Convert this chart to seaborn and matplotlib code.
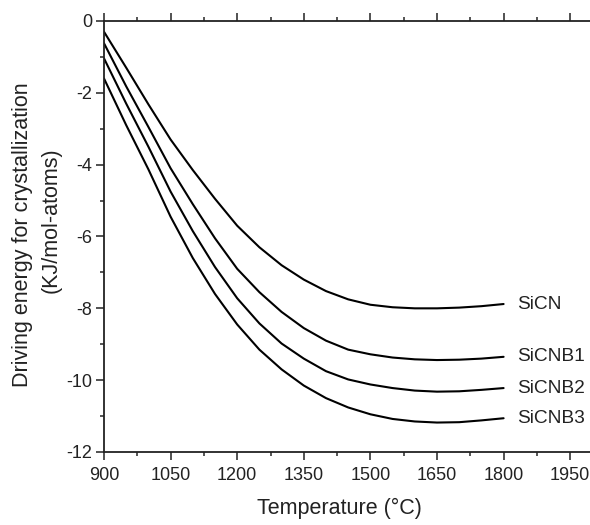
import matplotlib
matplotlib.use("Agg")
import matplotlib.pyplot as plt
from matplotlib.ticker import MultipleLocator
import seaborn as sns
import pandas as pd

temperature = [900, 950, 1000, 1050, 1100, 1150, 1200, 1250, 1300, 1350,
               1400, 1450, 1500, 1550, 1600, 1650, 1700, 1750, 1800]
sicn = [-0.30, -1.30, -2.32, -3.30, -4.15, -4.95, -5.70, -6.30, -6.80, -7.20,
        -7.52, -7.75, -7.90, -7.97, -8.00, -8.00, -7.98, -7.94, -7.88]
sicnb1 = [-0.62, -1.82, -2.95, -4.10, -5.10, -6.05, -6.90, -7.55, -8.10, -8.55,
          -8.90, -9.15, -9.28, -9.37, -9.42, -9.44, -9.43, -9.40, -9.35]
sicnb2 = [-1.04, -2.30, -3.50, -4.75, -5.85, -6.85, -7.72, -8.42, -8.98, -9.40,
          -9.75, -9.98, -10.12, -10.22, -10.29, -10.32, -10.31, -10.27, -10.22]
sicnb3 = [-1.60, -2.90, -4.13, -5.45, -6.60, -7.60, -8.45, -9.15, -9.70, -10.15,
          -10.50, -10.76, -10.95, -11.08, -11.15, -11.18, -11.17, -11.12, -11.06]
series_names = ["SiCN", "SiCNB1", "SiCNB2", "SiCNB3"]
x_ticks = [900, 1050, 1200, 1350, 1500, 1650, 1800, 1950]
y_ticks = [0, -2, -4, -6, -8, -10, -12]

frames = []
for name, vals in zip(series_names, [sicn, sicnb1, sicnb2, sicnb3]):
    frames.append(pd.DataFrame({"T": temperature, "E": vals, "series": name}))
df = pd.concat(frames, ignore_index=True)

sns.set_style("ticks")
plt.rcParams["font.family"] = ["Liberation Sans", "DejaVu Sans"]

W, H = 590, 525
fig = plt.figure(figsize=(W / 100, H / 100), dpi=100)
left, right, top, bottom = 104, 590, 21, 452
ax = fig.add_axes([left / W, (H - bottom) / H, (right - left) / W, (bottom - top) / H])

sns.lineplot(data=df, x="T", y="E", hue="series",
             palette=["black"] * 4, legend=False, ax=ax, linewidth=1.5)

ax.set_xlim(900, 900 + (right - left) / 66.6 * 150)
ax.set_ylim(-12, 0)
ax.set_xticks(x_ticks)
ax.set_yticks(y_ticks)
ax.set_yticklabels([str(v) for v in y_ticks])
ax.xaxis.set_minor_locator(MultipleLocator(75))
ax.yaxis.set_minor_locator(MultipleLocator(1))
ax.tick_params(axis="both", which="major", direction="out", length=5.5, width=1.1,
               labelsize=13, colors="#222222")
ax.tick_params(axis="both", which="minor", direction="out", length=3, width=1.1)
ax.tick_params(axis="x", which="both", top=True)
ax.tick_params(axis="x", pad=5)
ax.tick_params(axis="y", pad=3)

for s in ["left", "bottom", "top"]:
    ax.spines[s].set_visible(True)
    ax.spines[s].set_linewidth(1.3)
    ax.spines[s].set_color("#222222")
ax.spines["right"].set_visible(False)

ax.set_xlabel("")
ax.set_ylabel("")
label_size = 15.5
fig.text(339 / W, 1 - 508 / H, "Temperature (°C)", ha="center", va="center",
         fontsize=label_size, color="#222222")
fig.text(23 / W, 1 - 235 / H, "Driving energy for crystallization", rotation=90,
         ha="center", va="center", fontsize=label_size, color="#222222")
fig.text(51 / W, 1 - 220 / H, "(KJ/mol-atoms)", rotation=90,
         ha="center", va="center", fontsize=label_size, color="#222222")

for name, vals in zip(series_names, [sicn, sicnb1, sicnb2, sicnb3]):
    ax.text(1830, vals[-1], name, ha="left", va="center", fontsize=13.8,
            color="#222222")

fig.savefig("out.png", dpi=100)
